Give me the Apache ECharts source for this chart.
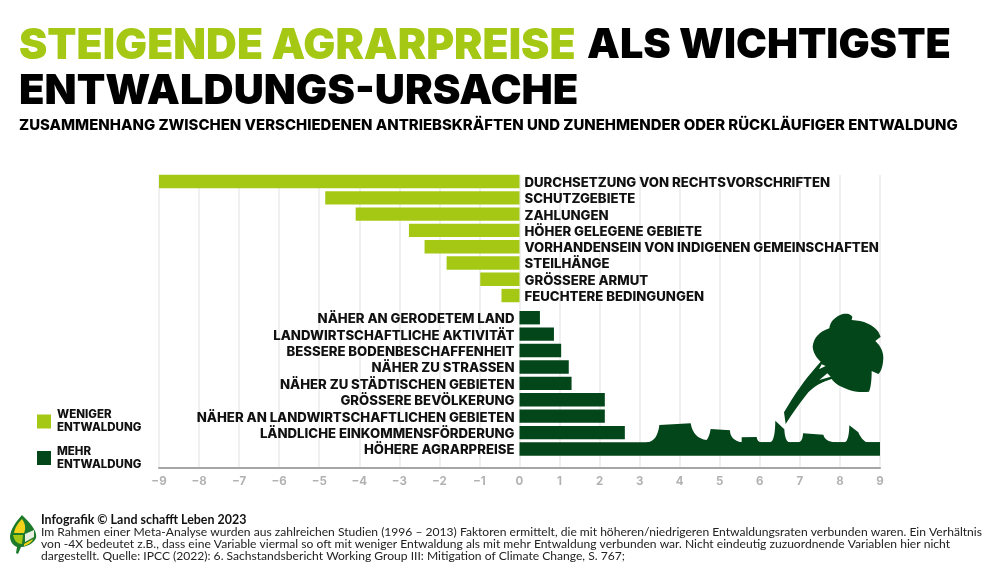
<!DOCTYPE html>
<html style="height: 100%">
<head>
    <meta charset="utf-8">
</head>
<body style="height: 100%; margin: 0; background-color: #fff;">
<div id="container" style="width: 1000px; height: 571px"></div>
<script src="https://cdn.jsdelivr.net/npm/echarts@6/dist/echarts.min.js"></script>
<script type="text/javascript">
var lessCategories = ['DURCHSETZUNG VON RECHTSVORSCHRIFTEN', 'SCHUTZGEBIETE', 'ZAHLUNGEN', 'HÖHER GELEGENE GEBIETE',
    'VORHANDENSEIN VON INDIGENEN GEMEINSCHAFTEN', 'STEILHÄNGE', 'GRÖSSERE ARMUT', 'FEUCHTERE BEDINGUNGEN'];
var lessValues = [-9, -4.85, -4.09, -2.76, -2.37, -1.82, -0.98, -0.45];

var moreCategories = ['NÄHER AN GERODETEM LAND', 'LANDWIRTSCHAFTLICHE AKTIVITÄT', 'BESSERE BODENBESCHAFFENHEIT',
    'NÄHER ZU STRASSEN', 'NÄHER ZU STÄDTISCHEN GEBIETEN', 'GRÖSSERE BEVÖLKERUNG',
    'NÄHER AN LANDWIRTSCHAFTLICHEN GEBIETEN', 'LÄNDLICHE EINKOMMENSFÖRDERUNG', 'HÖHERE AGRARPREISE'];
var moreValues = [0.51, 0.86, 1.04, 1.23, 1.3, 2.13, 2.13, 2.63, 9];

var lessName = 'WENIGER\nENTWALDUNG';
var moreName = 'MEHR\nENTWALDUNG';

var lime = '#a4c814';
var forest = '#03461a';
var headFont = 'Inter';
var bodyFont = 'Lato';
var zeroOffset = -360.5;

var chart = echarts.init(document.getElementById('container'));

function hiddenX(i) {
    return { gridIndex: i, type: 'value', min: -9, max: 9, show: false };
}

// text helper for the headline block and the footer
function txt(x, y, text, size, weight, color, font) {
    return {
        type: 'text', x: x, y: y, silent: true,
        style: { text: text, fill: color || '#000', font: (weight || 400) + ' ' + size + 'px ' + (font || headFont), textVerticalAlign: 'middle' }
    };
}

// graphic type 'path' throws here, so the drawings go in as polygons: M/L/Q string -> points
function flatten(d, ox, oy, k) {
    var out = [], cur = [0, 0];
    d.replace(/([MLQ])([^MLQZ]*)/g, function (m, cmd, args) {
        var n = args.trim().split(/[\s,]+/).map(Number);
        if (cmd === 'Q') {
            for (var t = 0.125; t <= 1; t += 0.125) {
                var u = 1 - t;
                out.push([u * u * cur[0] + 2 * u * t * n[0] + t * t * n[2], u * u * cur[1] + 2 * u * t * n[1] + t * t * n[3]]);
            }
            cur = [n[2], n[3]];
        } else {
            cur = [n[0], n[1]];
            out.push(cur);
        }
    });
    return out.map(function (p) { return [ox + p[0] * k, oy + p[1] * k]; });
}

// z 10 keeps the drawings above the split lines
function shapeOf(d, color, ox, oy, k) {
    return { type: 'polygon', silent: true, z: 10, shape: { points: flatten(d, ox || 0, oy || 0, k || 1) }, style: { fill: color } };
}

var treePath = 'M42,322 Q90,240 135,190 L152,170 Q130,150 128,125 Q132,85 178,70 Q180,45 210,30 Q235,20 247,35 L245,45 ' +
    'Q300,48 325,80 L332,95 L316,108 Q340,130 340,160 Q338,195 325,207 L305,198 Q305,240 297,260 Q260,265 225,250 ' +
    'Q195,238 185,222 Q140,235 115,262 Q80,305 47,357';
var nickOne = 'M147,193 L155,178 L167,183';
var nickTwo = 'M148,225 L172,205 L182,215';
var groundPath = 'M380,430 L380,427 Q412,425 418,375 L512,370 Q520,415 560,420 Q568,410 572,387 L630,391 Q630,420 665,427 ' +
    'L665,412 L710,411 Q712,427 725,427 L750,427 Q765,425 766,362 L793,388 Q795,427 810,427 L835,427 Q848,425 849,400 ' +
    'L910,404 Q915,425 945,427 L975,427 Q987,420 988,376 L1015,397 Q1025,420 1040,427 L1080,427 L1080,430';

// top + tiny lineHeight drops the labels about 1.5px below the bar centre
var catLabel = {
    interval: 0, margin: 5, showMinLabel: true, showMaxLabel: true,
    verticalAlign: 'top', lineHeight: 3,
    color: '#111', fontFamily: headFont, fontWeight: 800, fontSize: 13.2
};

chart.setOption({
    animation: false,
    legend: {
        orient: 'vertical', left: 32, top: 402,
        itemWidth: 14, itemHeight: 14, itemGap: 7.5,
        icon: 'rect', selectedMode: false,
        textStyle: { fontFamily: headFont, fontWeight: 800, fontSize: 11.5, lineHeight: 13, color: '#111', padding: [3, 0, 0, 1] },
        data: [lessName, moreName]
    },
    grid: [
        { left: 159, width: 721, top: 173.4, height: 130.3, outerBoundsMode: 'none' },
        { left: 159, width: 721, top: 309.5, height: 147.7, outerBoundsMode: 'none' },
        { left: 159, width: 721, top: 175, height: 293, outerBoundsMode: 'none' }
    ],
    xAxis: [
        hiddenX(0),
        hiddenX(1),
        {
            gridIndex: 2, type: 'value', min: -9, max: 9, interval: 1,
            axisLine: { show: true, onZero: false, lineStyle: { color: '#a6a6a6', width: 2 } },
            axisTick: { show: false },
            splitLine: { show: true, lineStyle: { color: '#f0f0f0', width: 2 } },
            axisLabel: {
                color: '#b2b2b2', fontFamily: headFont, fontWeight: 700, fontSize: 11.5, margin: 8,
                formatter: function (v) { return v < 0 ? '\u2212' + (-v) : String(v); }
            }
        }
    ],
    yAxis: [
        {
            gridIndex: 0, type: 'category', inverse: true, data: lessCategories, offset: zeroOffset,
            axisLine: { show: false, onZero: false }, axisTick: { show: false },
            axisLabel: Object.assign({ inside: true }, catLabel)
        },
        {
            gridIndex: 1, type: 'category', inverse: true, data: moreCategories, offset: zeroOffset,
            axisLine: { show: false, onZero: false }, axisTick: { show: false },
            axisLabel: catLabel
        },
        { gridIndex: 2, type: 'value', show: false, min: 0, max: 1 }
    ],
    series: [
        { name: lessName, type: 'bar', xAxisIndex: 0, yAxisIndex: 0, data: lessValues, barWidth: 13.4, itemStyle: { color: lime } },
        { name: moreName, type: 'bar', xAxisIndex: 1, yAxisIndex: 1, data: moreValues, barWidth: 13.4, itemStyle: { color: forest } }
    ],
    graphic: [
        txt(19, 46, 'STEIGENDE AGRARPREISE', 42.6, 900, lime),
        txt(587, 46, 'ALS WICHTIGSTE', 41.4, 900),
        txt(19, 91, 'ENTWALDUNGS-URSACHE', 41.7, 900),
        txt(19, 125.5, 'ZUSAMMENHANG ZWISCHEN VERSCHIEDENEN ANTRIEBSKRÄFTEN UND ZUNEHMENDER ODER RÜCKLÄUFIGER ENTWALDUNG', 14.95, 800),
        txt(41, 519.5, 'Infografik © Land schafft Leben 2023', 12.45, 700, '#111', bodyFont),
        txt(41, 532, 'Im Rahmen einer Meta-Analyse wurden aus zahlreichen Studien (1996 – 2013) Faktoren ermittelt, die mit höheren/niedrigeren Entwaldungsraten verbunden waren. Ein Verhältnis', 12.09, 400, '#222', bodyFont),
        txt(41, 544.5, 'von -4X bedeutet z.B., dass eine Variable viermal so oft mit weniger Entwaldung als mit mehr Entwaldung verbunden war. Nicht eindeutig zuzuordnende Variablen hier nicht', 12.09, 400, '#222', bodyFont),
        txt(41, 556.5, 'dargestellt. Quelle: IPCC (2022): 6. Sachstandsbericht Working Group III: Mitigation of Climate Change, S. 767;', 12.09, 400, '#222', bodyFont),
        // tree and stumps on the last bar
        shapeOf(treePath, forest, 770, 305, 1 / 3),
        shapeOf(nickOne, '#fff', 770, 305, 1 / 3),
        shapeOf(nickTwo, '#fff', 770, 305, 1 / 3),
        shapeOf(groundPath, forest, 520, 300, 1 / 3),
        // logo leaf
        shapeOf('M22,515 Q38,530 36,538 Q32,546 21,547 L18,554 L16,553 L17,547 Q10,544 10,536 Q11,527 22,515', '#1d7a2a'),
        shapeOf('M22,519 Q27,526 24,533 L14,533 Q15,526 22,519', '#f2d21a'),
        shapeOf('M13,535 L23,535 L22,544 Q15,544 13,535', lime),
        shapeOf('M25,534 L34,530 L34,537 L25,542', '#e8efe0'),
        shapeOf('M24,544 L33,539 Q31,544 24,546', '#f2d21a')
    ]
});
</script>
</body>
</html>
